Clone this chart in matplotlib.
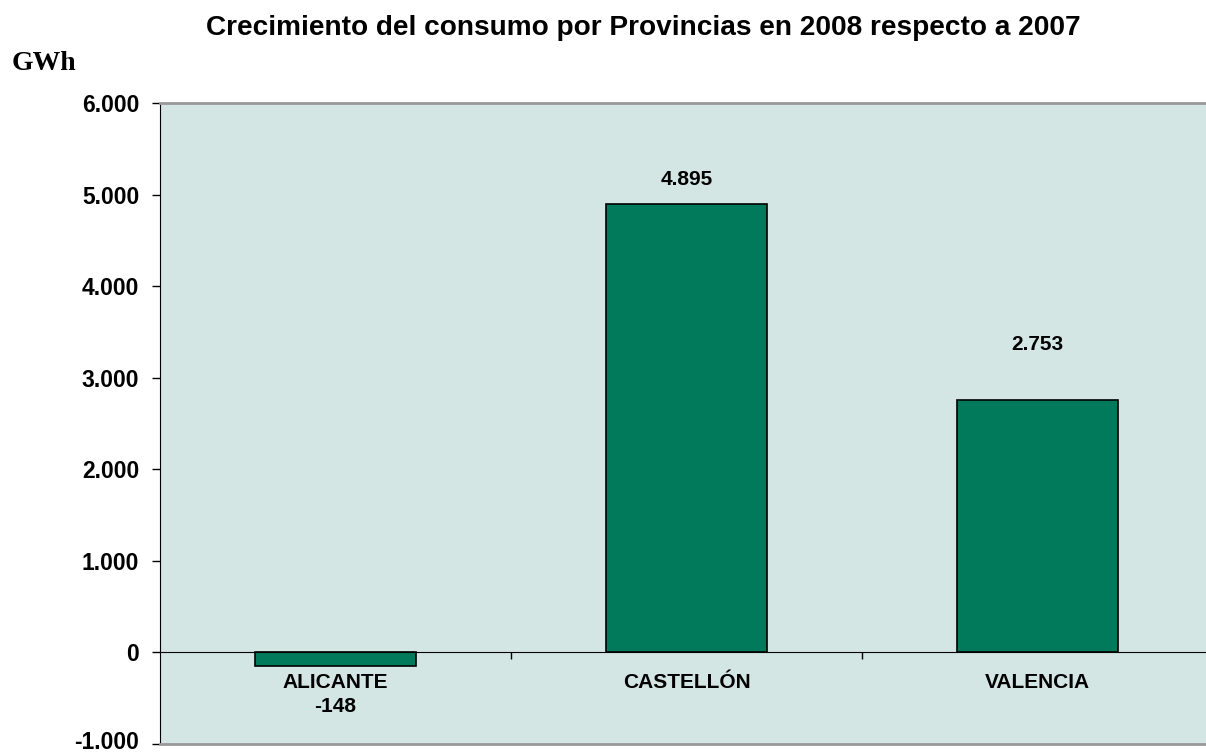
import matplotlib.pyplot as plt
import matplotlib.transforms as mtransforms
import numpy as np

provincias = ["ALICANTE", "CASTELLÓN", "VALENCIA"]
crecimiento = [-148, 4895, 2753]
etiquetas = ["-148", "4.895", "2.753"]
yticks = [-1000, 0, 1000, 2000, 3000, 4000, 5000, 6000]
ytick_labels = ["-1.000", "0", "1.000", "2.000", "3.000", "4.000", "5.000", "6.000"]

# label offsets in points (labels were moved by hand in the original)
label_offsets = [-29, 17.5, 40]

plt.rcParams["font.family"] = "Liberation Sans"

fig = plt.figure(figsize=(12.06, 7.53), dpi=100)
ax = fig.add_axes([160 / 1206, 9 / 753, 1053 / 1206, 641 / 753])
ax.set_facecolor("#D3E6E3")

x = np.arange(len(provincias))
ax.bar(x, crecimiento, width=0.457, color="#007A5A", edgecolor="black", linewidth=1.2, zorder=3)

ax.set_xlim(-0.5, 2.5)
ax.set_ylim(-1000, 6000)
ax.set_yticks(yticks)
ax.set_yticklabels(ytick_labels, fontsize=16.5, fontweight="bold")
ax.tick_params(axis="y", length=6, width=1, pad=9)

# keep the bottom label inside the figure
lbl = ax.get_yticklabels()[0]
lbl.set_transform(lbl.get_transform() + mtransforms.ScaledTranslation(0, 4 / 100, fig.dpi_scale_trans))

# category axis crossing at zero
ax.spines["bottom"].set_position(("data", 0))
ax.spines["bottom"].set_color("black")
ax.spines["bottom"].set_zorder(4)
ax.set_xticks(x)
ax.set_xticklabels(provincias, fontsize=15, fontweight="bold")
ax.set_xticks([0.5, 1.5], minor=True)
ax.tick_params(axis="x", which="major", length=0, pad=15)
ax.tick_params(axis="x", which="minor", length=5, width=1, direction="out")

ax.spines["left"].set_color("black")
ax.spines["top"].set_color("#999999")
ax.spines["top"].set_linewidth(2)
ax.spines["right"].set_visible(False)
ax.axhline(-1000, color="#999999", linewidth=2, clip_on=False, zorder=5)

for xi, v, lab, off in zip(x, crecimiento, etiquetas, label_offsets):
    ax.annotate(lab, (xi, v), xytext=(0, off), textcoords="offset points",
                ha="center", va="center", fontsize=15, fontweight="bold")

fig.text(643 / 1206, 1 - 28 / 753, "Crecimiento del consumo por Provincias en 2008 respecto a 2007",
         ha="center", va="center", fontsize=20.2, fontweight="bold")
fig.text(12 / 1206, 1 - 63 / 753, "GWh", ha="left", va="center", fontsize=20,
         fontweight="bold", family="Liberation Serif")

fig.savefig("out.png", dpi=100)
